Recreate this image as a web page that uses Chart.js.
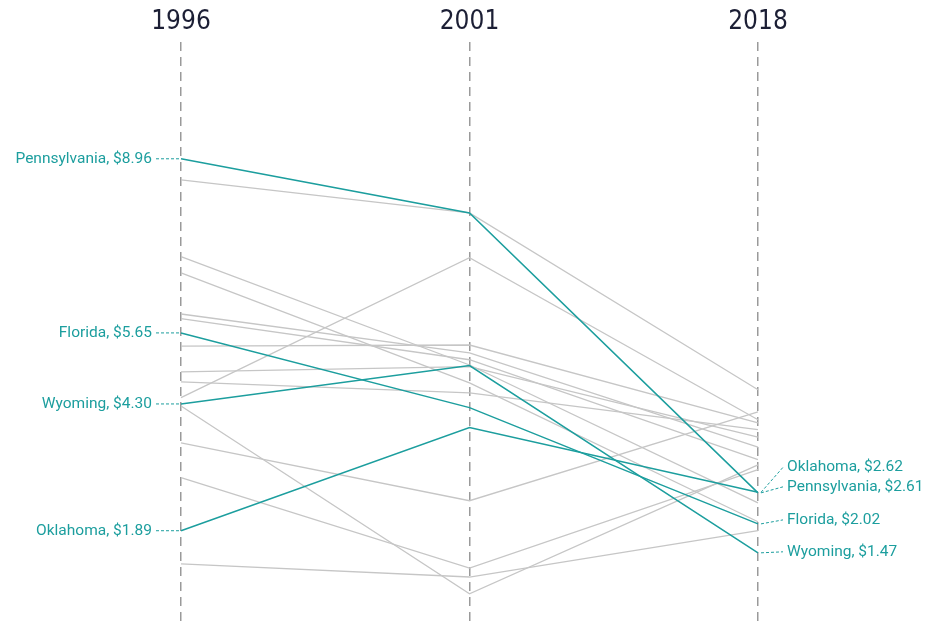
<!DOCTYPE html>
<html>
<head>
<meta charset="utf-8">
<script src="https://cdn.jsdelivr.net/npm/chart.js@4"></script>
<style>
  html, body { margin: 0; padding: 0; background: #fff; }
  canvas { display: block; }
</style>
</head>
<body>
<canvas id="grafico" width="940" height="627"></canvas>
<script>
// anos (eixos verticais)
const years = ['1996', '2001', '2018'];

// estados destacados
const highlightNames = ['Pennsylvania', 'Florida', 'Wyoming', 'Oklahoma'];
const pennsylvania = [8.96, 7.93, 2.61];
const florida = [5.65, 4.23, 2.02];
const wyoming = [4.30, 5.03, 1.47];
const oklahoma = [1.89, 3.85, 2.62];

// demais estados (cinza)
const otherStates = [
  [8.56, 7.93, 4.57],
  [7.10, 5.04, 2.42],
  [6.79, 4.70, 2.06],
  [6.01, 5.27, 3.48],
  [5.92, 5.14, 3.24],
  [5.40, 5.42, 3.94],
  [4.91, 5.01, 3.67],
  [4.72, 4.51, 3.81],
  [4.42, 7.08, 4.00],
  [4.26, 0.69, 3.14],
  [3.56, 2.46, 4.15],
  [2.90, 1.18, 3.05],
  [1.26, 1.01, 1.89]
];

const teal = '#1c9e9e';
const gray = '#c6c6c6';
const highlightData = [pennsylvania, florida, wyoming, oklahoma];

// deslocamento vertical dos rótulos da direita (evitar sobreposição)
const rightOffsets = { Pennsylvania: -6, Florida: -4, Wyoming: -1, Oklahoma: -25 };

const datasets = [];
highlightData.forEach((d, i) => {
  datasets.push({
    label: highlightNames[i],
    data: d,
    borderColor: teal,
    borderWidth: 1.5,
    pointRadius: 0,
    tension: 0,
    order: 0
  });
});
otherStates.forEach((d, i) => {
  datasets.push({
    label: 'outro ' + i,
    data: d,
    borderColor: gray,
    borderWidth: 1.3,
    pointRadius: 0,
    tension: 0,
    order: 1
  });
});

const rotulos = {
  id: 'rotulos',
  afterDraw(chart) {
    const ctx = chart.ctx;
    const x = chart.scales.x;
    const y = chart.scales.y;
    ctx.save();

    // anos no topo
    ctx.fillStyle = '#1c1f35';
    ctx.font = '26px "Liberation Sans Narrow", "DejaVu Sans Condensed", sans-serif';
    ctx.textAlign = 'center';
    ctx.textBaseline = 'middle';
    years.forEach((yr, i) => {
      ctx.fillText(yr, x.getPixelForValue(i), 22);
    });

    ctx.font = '15.5px Roboto, sans-serif';
    ctx.fillStyle = teal;
    ctx.strokeStyle = teal;
    ctx.lineWidth = 1;
    ctx.setLineDash([3, 2]);
    ctx.textBaseline = 'middle';

    const x0 = x.getPixelForValue(0);
    const x2 = x.getPixelForValue(2);

    highlightNames.forEach((name, i) => {
      const d = highlightData[i];
      // esquerda
      const yl = y.getPixelForValue(d[0]);
      ctx.textAlign = 'right';
      ctx.fillText(name + ', $' + d[0].toFixed(2), x0 - 29, yl);
      ctx.beginPath();
      ctx.moveTo(x0 - 25, yl);
      ctx.lineTo(x0 - 1, yl);
      ctx.stroke();

      // direita
      const yr = y.getPixelForValue(d[2]);
      const ly = yr + rightOffsets[name];
      ctx.textAlign = 'left';
      ctx.fillText(name + ', $' + d[2].toFixed(2), x2 + 29, ly);
      ctx.beginPath();
      ctx.moveTo(x2 + 3, yr);
      ctx.lineTo(x2 + 25, ly);
      ctx.stroke();
    });
    ctx.restore();
  }
};

new Chart(document.getElementById('grafico'), {
  type: 'line',
  data: { labels: years, datasets },
  options: {
    responsive: false,
    animation: false,
    layout: { padding: { left: 181, right: 182, top: 42, bottom: 0 } },
    scales: {
      x: {
        offset: false,
        ticks: { display: false },
        grid: { color: '#9a9a9a', lineWidth: 1.5, drawTicks: false },
        border: { display: false, dash: [9, 6] }
      },
      y: { display: false, min: 0.06, max: 11.18 }
    },
    plugins: {
      legend: { display: false },
      tooltip: { enabled: false }
    }
  },
  plugins: [rotulos]
});
</script>
</body>
</html>
